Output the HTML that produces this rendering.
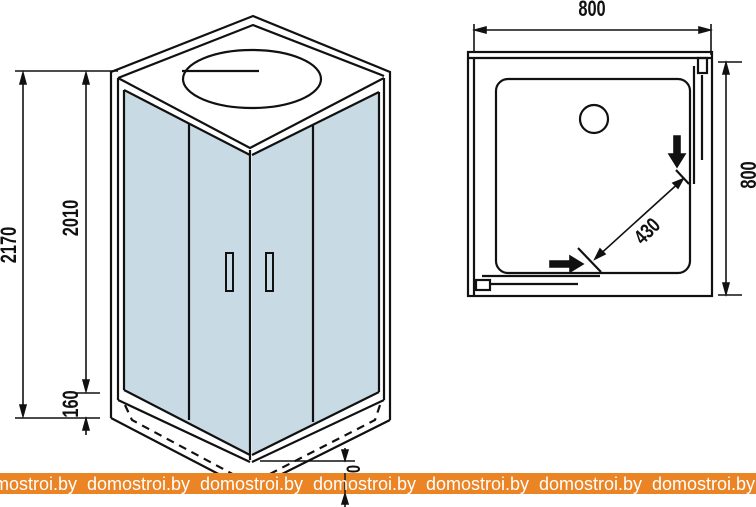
<!DOCTYPE html>
<html><head><meta charset="utf-8"><style>
html,body{margin:0;padding:0;background:#fff;}
svg{display:block}
</style></head><body>
<svg width="756" height="507" viewBox="0 0 756 507" xmlns="http://www.w3.org/2000/svg" font-family="Liberation Sans, sans-serif">
<g fill="none" stroke="#111" stroke-width="2.2" stroke-linejoin="miter">
<polygon points="125,92 250,155 250,455 125,390" fill="#c8dae3" stroke="none"/>
<polygon points="252,155 380,92 380,390 252,455" fill="#c8dae3" stroke="none"/>
<polyline points="111,418 111,72 253,16 390,72 390,420"/>
<polyline points="111,418 230,480"/>
<polyline points="390,420 270,480"/>
<polyline points="118,78 253,25 384,76"/>
<polyline points="118,78 250,148 384,78"/>
<ellipse cx="252" cy="79" rx="69" ry="29"/>
<line x1="182" y1="71" x2="259" y2="71"/>
<line x1="118" y1="78" x2="118" y2="400"/>
<line x1="384" y1="78" x2="384" y2="400"/>
<line x1="124" y1="90" x2="124" y2="390"/>
<line x1="379" y1="92" x2="379" y2="392"/>
<line x1="124" y1="90" x2="250" y2="155"/>
<line x1="379" y1="92" x2="252" y2="155"/>
<line x1="250" y1="150" x2="250" y2="460"/>
<line x1="189" y1="123" x2="189" y2="420"/>
<line x1="313" y1="125" x2="313" y2="422"/>
<line x1="124" y1="390" x2="250" y2="455"/>
<line x1="379" y1="392" x2="252" y2="455"/>
<line x1="118" y1="400" x2="250" y2="462"/>
<line x1="384" y1="400" x2="252" y2="462"/>
<polyline points="125,405 132,420 240,478" stroke-dasharray="8,6"/>
<polyline points="380,405 375,420 262,478" stroke-dasharray="8,6"/>
<rect x="226" y="253" width="7" height="38" stroke-width="2"/>
<rect x="266" y="253" width="7" height="38" stroke-width="2"/>
</g>
<g stroke="#111" stroke-width="1.6" fill="#111">
<line x1="15" y1="71" x2="118" y2="71"/>
<line x1="15" y1="418" x2="100" y2="418"/>
<line x1="23" y1="74" x2="23" y2="415"/>
<polygon points="23,73 20,84 26,84"/><polygon points="23,416 20,405 26,405"/>
<line x1="86" y1="74" x2="86" y2="390"/>
<polygon points="86,73 83,84 89,84"/><polygon points="86,391 83,380 89,380"/>
<line x1="75" y1="393" x2="100" y2="393"/>
<line x1="86" y1="418" x2="86" y2="435"/>
<polygon points="86,419 83,430 89,430"/>
<line x1="260" y1="461" x2="355" y2="461"/>
<line x1="345" y1="448" x2="345" y2="461"/>
<polygon points="345,460 342,450 348,450"/>
<line x1="345" y1="493" x2="345" y2="507"/>
<polygon points="345,494 342,504 348,504"/>
</g>
<g font-weight="bold" font-size="20" fill="#111" text-anchor="middle">
<text transform="translate(16,245) rotate(-90) scale(0.82,1.1)">2170</text>
<text transform="translate(78,218) rotate(-90) scale(0.82,1.1)">2010</text>
<text transform="translate(78,404) rotate(-90) scale(0.82,1.1)">160</text>
<text transform="translate(360,469) rotate(-90) scale(0.82,1.1)" font-size="18">0</text>
</g>
<g fill="none" stroke="#111" stroke-width="2.2">
<rect x="468" y="52" width="244" height="244"/>
<line x1="468" y1="58" x2="712" y2="58"/>
<line x1="474" y1="58" x2="474" y2="296"/>
<rect x="496" y="79" width="194" height="194" rx="12"/>
<circle cx="594" cy="119" r="14"/>
<line x1="694" y1="66" x2="694" y2="184"/>
<line x1="702" y1="75" x2="702" y2="160"/>
<line x1="482" y1="276" x2="600" y2="276"/>
<line x1="490" y1="284" x2="578" y2="284"/>
<rect x="698" y="58" width="9" height="15"/>
<rect x="476" y="280" width="14" height="10"/>
<line x1="676" y1="170" x2="689" y2="184"/>
<line x1="578" y1="248" x2="601" y2="272"/>
</g>
<g stroke="#111" stroke-width="1.6" fill="#111">
<line x1="474" y1="24" x2="474" y2="52"/>
<line x1="711" y1="24" x2="711" y2="55"/>
<line x1="476" y1="30" x2="709" y2="30"/>
<polygon points="475,30 486,27 486,33"/><polygon points="710,30 699,27 699,33"/>
<line x1="718" y1="62" x2="742" y2="62"/>
<line x1="718" y1="295" x2="742" y2="295"/>
<line x1="726" y1="64" x2="726" y2="293"/>
<polygon points="726,63 723,74 729,74"/><polygon points="726,294 723,283 729,283"/>
<line x1="682" y1="180" x2="596" y2="258"/>
<polygon points="683,179 673,183 678,188"/><polygon points="595,259 600,249 605,254"/>
<polygon points="674,136 680,136 680,154 685,154 677,167 669,154 674,154"/>
<polygon points="550,261 570,261 570,256 583,264 570,272 570,267 550,267"/>
</g>
<g font-weight="bold" font-size="20" fill="#111" text-anchor="middle">
<text transform="translate(592,16) scale(0.82,1.1)">800</text>
<text transform="translate(756,175) rotate(-90) scale(0.82,1.1)">800</text>
<text transform="translate(652,236) rotate(-45) scale(0.85,1.1)" font-size="19">430</text>
</g>
<rect x="0" y="473" width="756" height="21" fill="#ea8424"/>
<line x1="345" y1="473" x2="345" y2="494" stroke="#111" stroke-width="1.4"/>
<g fill="#fff" font-size="18">
<text x="-26" y="490">domostroi.by</text>
<text x="87" y="490">domostroi.by</text>
<text x="200" y="490">domostroi.by</text>
<text x="313" y="490">domostroi.by</text>
<text x="426" y="490">domostroi.by</text>
<text x="539" y="490">domostroi.by</text>
<text x="652" y="490">domostroi.by</text>
</g>
</svg>
</body></html>
